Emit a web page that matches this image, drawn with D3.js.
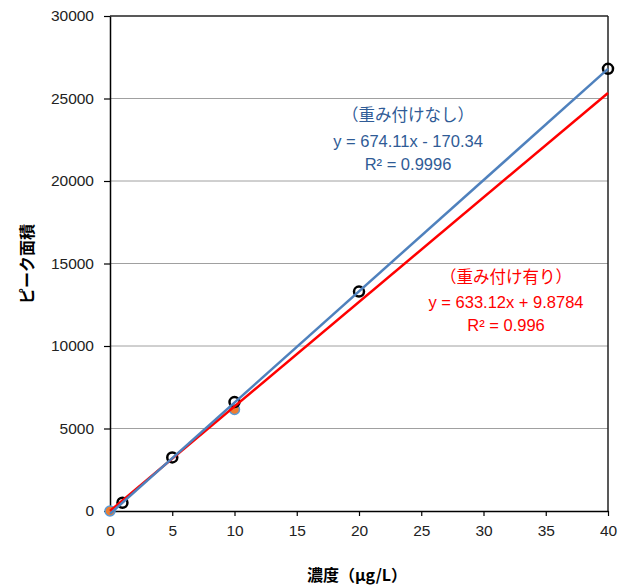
<!DOCTYPE html>
<html><head><meta charset="utf-8">
<script src="https://cdn.jsdelivr.net/npm/d3@7"></script>
<style>body{margin:0;background:#fff}svg{display:block}</style>
</head><body>
<svg id="c" width="630" height="585"></svg>
<script>
// data
const concX = [1, 5, 10, 20, 40];
const areaY = [500, 3250, 6600, 13300, 26800];
const extraX = [0, 10];
const extraY = [0, 6150];
const xTicks = [0, 5, 10, 15, 20, 25, 30, 35, 40];
const yTicks = [0, 5000, 10000, 15000, 20000, 25000, 30000];
const fitUnweighted = {slope: 674.11, intercept: -170.34};
const fitWeighted = {slope: 633.12, intercept: 9.8784};
const blueLabels = ["（重み付けなし）", "y = 674.11x - 170.34", "R² = 0.9996"];
const redLabels = ["（重み付け有り）", "y = 633.12x + 9.8784", "R² = 0.996"];
const xTitle = "濃度（μg/L）";
const yTitle = "ピーク面積";

const svg = d3.select("#c");
const m = {l:110, r:22, t:16, b:74};
const W = 630, H = 585;
const x = d3.scaleLinear().domain([0,40]).range([m.l, W-m.r]);
const y = d3.scaleLinear().domain([0,30000]).range([H-m.b, m.t]);
const font = "'Liberation Sans', Arial, sans-serif";

// gridlines
svg.append("g").selectAll("line").data(yTicks.filter(d=>d>0 && d<30000)).join("line")
  .attr("x1", x(0)).attr("x2", x(40)).attr("y1", d=>y(d)).attr("y2", d=>y(d))
  .attr("stroke", "#a0a0a0").attr("stroke-width", 1);

// border top and right
svg.append("line").attr("x1", x(0)).attr("x2", x(40)).attr("y1", y(30000)).attr("y2", y(30000))
  .attr("stroke", "#222").attr("stroke-width", 1.5);
svg.append("line").attr("x1", x(40)).attr("x2", x(40)).attr("y1", y(30000)).attr("y2", y(0))
  .attr("stroke", "#222").attr("stroke-width", 1.5);

// axes
const yAxis = svg.append("g").attr("transform", `translate(${x(0)},0)`)
  .call(d3.axisLeft(y).tickValues(yTicks).tickFormat(d3.format("d")).tickSize(6).tickPadding(10).tickSizeOuter(0));
const xAxis = svg.append("g").attr("transform", `translate(0,${y(0)})`)
  .call(d3.axisBottom(x).tickValues(xTicks).tickFormat(d3.format("d")).tickSize(5).tickPadding(9).tickSizeOuter(0));
[xAxis, yAxis].forEach(a => {
  a.select(".domain").attr("stroke", "#000").attr("stroke-width", 1.5);
  a.selectAll(".tick line").attr("stroke", "#000").attr("stroke-width", 1.2);
  a.selectAll("text").attr("font-family", font).attr("font-size", 15.5).attr("fill", "#222");
});

// extra (orange) points
svg.append("g").selectAll("circle").data(extraX.map((d,i)=>[d, extraY[i]])).join("circle")
  .attr("cx", d=>x(d[0])).attr("cy", d=>y(d[1])).attr("r", 5)
  .attr("fill", "#ED7D31").attr("stroke", "#5B9BD5").attr("stroke-width", 1.5);

// black circles
svg.append("g").selectAll("circle").data(concX.map((d,i)=>[d, areaY[i]])).join("circle")
  .attr("cx", d=>x(d[0])).attr("cy", d=>y(d[1])).attr("r", 5)
  .attr("fill", "none").attr("stroke", "#000").attr("stroke-width", 2.5);

// trend lines
function trend(f, color) {
  const pts = [0, 40].map(v => [x(v), y(f.slope*v + f.intercept)]);
  svg.append("path").attr("d", d3.line()(pts)).attr("stroke", color)
    .attr("stroke-width", 2.5).attr("fill", "none");
}
trend(fitWeighted, "#FF0000");
trend(fitUnweighted, "#4F81BD");

// labels
const lblFont = "'Liberation Sans', 'Noto Sans CJK JP', sans-serif";
function labels(arr, cx, ys, color) {
  arr.forEach((t,i) => {
    svg.append("text").attr("x", cx).attr("y", ys[i]).attr("text-anchor", "middle")
      .attr("dominant-baseline", "central").attr("font-family", lblFont)
      .attr("font-size", 16.5).attr("fill", color).text(t);
  });
}
labels(blueLabels, 408, [115, 141, 164], "#2F5B96");
labels(redLabels, 506, [277, 302, 325], "#FF0000");

// axis titles
svg.append("text").attr("x", 357).attr("y", 574).attr("text-anchor", "middle")
  .attr("dominant-baseline", "central")
  .attr("font-family", "'Noto Sans CJK JP', sans-serif").attr("font-weight", "bold")
  .attr("font-size", 16).attr("fill", "#000").text(xTitle);
svg.append("text").attr("transform", "translate(26,264) rotate(-90)").attr("text-anchor", "middle")
  .attr("dominant-baseline", "central")
  .attr("font-family", "'Noto Sans CJK JP', sans-serif").attr("font-weight", "bold")
  .attr("font-size", 16).attr("fill", "#000").text(yTitle);
</script>
</body></html>
